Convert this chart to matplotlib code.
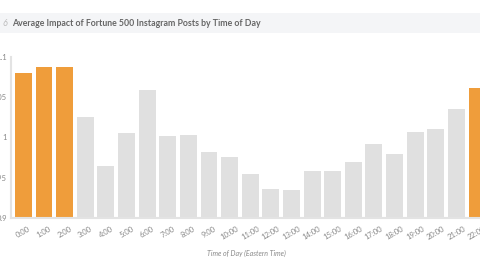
import matplotlib
matplotlib.use('Agg')
import matplotlib.pyplot as plt
from matplotlib.patches import Rectangle

hours = ['0:00', '1:00', '2:00', '3:00', '4:00', '5:00', '6:00', '7:00', '8:00',
         '9:00', '10:00', '11:00', '12:00', '13:00', '14:00', '15:00', '16:00',
         '17:00', '18:00', '19:00', '20:00', '21:00', '22:00']
impact = [1.080, 1.087, 1.087, 1.025, 0.965, 1.005, 1.059, 1.002, 1.003,
          0.982, 0.976, 0.955, 0.936, 0.935, 0.958, 0.958, 0.970,
          0.992, 0.980, 1.007, 1.011, 1.035, 1.061]
highlight = ['0:00', '1:00', '2:00', '22:00']
yticks = [0.9, 0.95, 1.0, 1.05, 1.1]
ytick_labels = ['0.9', '0.95', '1', '1.05', '1.1']

ORANGE = '#EF9D3B'
GREY = '#E0E0E0'
TEXT = '#888888'

plt.rcParams['font.family'] = ['Lato', 'DejaVu Sans']

fig = plt.figure(figsize=(4.8, 2.7), dpi=100)

# title band
fig.patches.append(Rectangle((0, 1 - 33 / 270), 1, 20 / 270, transform=fig.transFigure,
                             facecolor='#F4F5F7', edgecolor='none', zorder=0))
fig.text(2 / 480, 1 - 23 / 270, '6', fontsize=6.5, color='#BBBBBB', style='italic',
         va='center', ha='left')
fig.text(12 / 480, 1 - 23 / 270, 'Average Impact of Fortune 500 Instagram Posts by Time of Day',
         fontsize=6.3, color='#666666', fontweight='bold', va='center', ha='left')

ax = fig.add_axes([11 / 480, 52 / 270, 478.4 / 480, 161 / 270])
colors = [ORANGE if h in highlight else GREY for h in hours]
x = range(len(hours))
ax.bar(x, [v - 0.9 for v in impact], bottom=0.9, width=0.82, color=colors)

ax.set_xlim(-0.6, 22.6)
ax.set_ylim(0.9, 1.1)
ax.set_yticks(yticks)
ax.set_yticklabels(ytick_labels)
ax.set_xticks(list(x))
ax.set_xticklabels(hours, rotation=30, ha='center')
ax.tick_params(axis='y', length=0, pad=3, labelsize=5.5, labelcolor=TEXT)
ax.tick_params(axis='x', length=0, pad=5, labelsize=5.5, labelcolor=TEXT)

for s in ['top', 'right']:
    ax.spines[s].set_visible(False)
for s in ['left', 'bottom']:
    ax.spines[s].set_color('#E3E3E3')
    ax.spines[s].set_linewidth(1.5)

fig.text(246 / 480, 1 - 253 / 270, 'Time of Day (Eastern Time)', fontsize=5,
         color=TEXT, style='italic', ha='center', va='center')

fig.savefig('out.png', dpi=100)
